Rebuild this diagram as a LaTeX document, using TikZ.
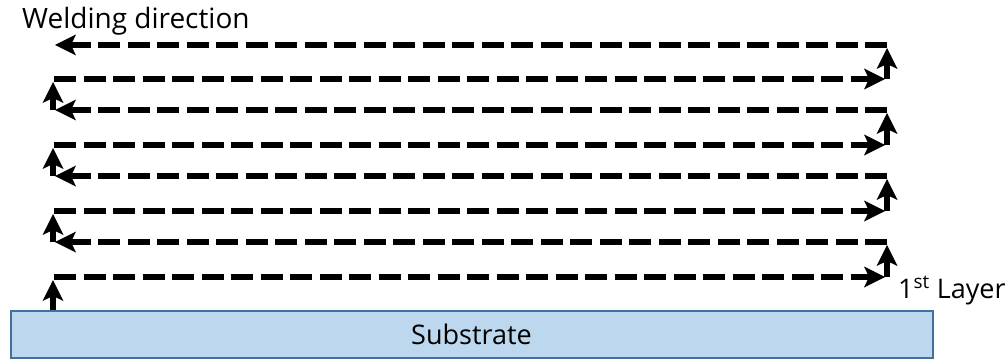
\documentclass[tikz,border=0pt]{standalone}
\usepackage{fontspec}
\setmainfont{Open Sans}
\usetikzlibrary{arrows.meta}
\definecolor{subfill}{RGB}{189,215,238}
\definecolor{subdraw}{RGB}{65,113,156}
\begin{document}
\begin{tikzpicture}[x=1pt,y=-1pt,
  dashline/.style={line width=6pt, dash pattern=on 22pt off 7.5pt},
  solidline/.style={line width=6.5pt},
  tipend/.style={-{Stealth[length=21pt 0,width=21pt 0,inset=5pt 0,line width=0pt]}},
  lbl/.style={font=\fontsize{27}{32}\selectfont, inner sep=0pt}]
\useasboundingbox (0,0) rectangle (1005,361);
% substrate
\node[draw=subdraw, fill=subfill, line width=2pt, minimum width=922pt, minimum height=47pt, inner sep=0pt, lbl] (sub) at (471.5,334) {Substrate};
% rows: odd = rightward, even = leftward
\foreach \i/\y in {1/277,2/242,3/211,4/176,5/145,6/110,7/79,8/45} {
  \coordinate (L\i) at (54,\y);
  \coordinate (R\i) at (886,\y);
}
\coordinate (base) at (53,310);
\coordinate (top1) at (53,280);
\draw[solidline,tipend] (base) -- (top1);
\foreach \i in {1,3,5,7} {
  \draw[dashline,tipend] (L\i) -- ([xshift=-1pt]R\i);
}
\foreach \i in {2,4,6,8} {
  \draw[dashline,tipend] ([xshift=1pt]R\i) -- ([xshift=1pt]L\i);
}
% right up arrows
\foreach \i/\j in {1/2,3/4,5/6,7/8} {
  \draw[solidline,tipend] ([xshift=1pt]R\i) -- ([xshift=1pt,yshift=-3pt]R\j);
}
% left up arrows
\foreach \i/\j in {2/3,4/5,6/7} {
  \draw[solidline,tipend] ([xshift=-1pt]L\i) -- ([xshift=-1pt,yshift=-3pt]L\j);
}
\node[lbl, anchor=base west, font=\fontsize{28}{33}\selectfont] (wd) at (22,29) {Welding direction};
\node[lbl, anchor=base west] (layer) at (898,298) {1\textsuperscript{st} Layer};
\end{tikzpicture}
\end{document}
